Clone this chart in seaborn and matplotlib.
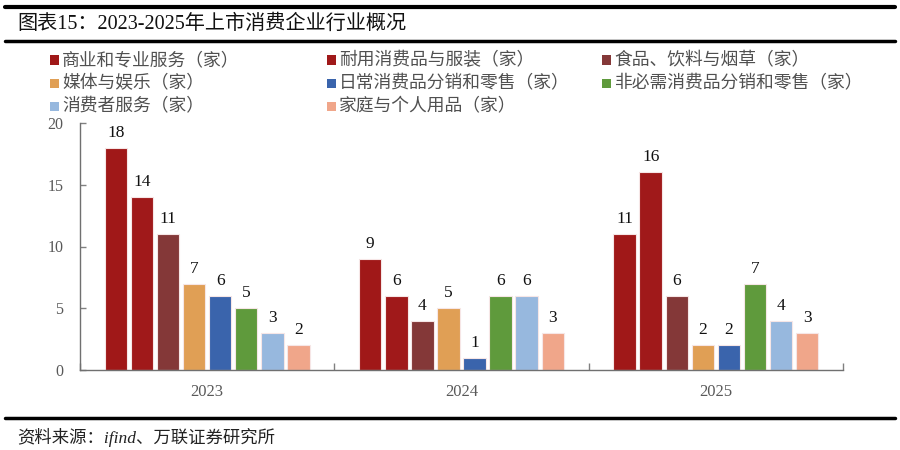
import matplotlib
matplotlib.use("Agg")
import matplotlib.pyplot as plt
from matplotlib.lines import Line2D
from matplotlib.patches import Rectangle
import seaborn as sns
import pandas as pd

years = ["2023", "2024", "2025"]
categories = ["商业和专业服务（家）", "耐用消费品与服装（家）", "食品、饮料与烟草（家）",
              "媒体与娱乐（家）", "日常消费品分销和零售（家）", "非必需消费品分销和零售（家）",
              "消费者服务（家）", "家庭与个人用品（家）"]
v_2023 = [18, 14, 11, 7, 6, 5, 3, 2]
v_2024 = [9, 6, 4, 5, 1, 6, 6, 3]
v_2025 = [11, 16, 6, 2, 2, 7, 4, 3]
colors = ["#A01818", "#A0191A", "#843838", "#E09F55", "#3A64AC", "#5F9A3C", "#97B8DE", "#F0A68A"]
y_ticks = [0, 5, 10, 15, 20]
title = "图表15：2023-2025年上市消费企业行业概况"
source = "资料来源：ifind、万联证券研究所"

rows = []
for y, vals in zip(years, [v_2023, v_2024, v_2025]):
    for c, v in zip(categories, vals):
        rows.append({"year": y, "cat": c, "value": v})
df = pd.DataFrame(rows)

sns.set_theme(style="white")
FAM = ["Liberation Serif", "Noto Sans CJK SC", "DejaVu Sans"]
plt.rcParams["font.family"] = FAM

fig = plt.figure(figsize=(9, 4.5), dpi=100)
ax = fig.add_axes([80/900, 80/450, (843-80)/900, (370-123)/450])

sns.barplot(data=df, x="year", y="value", hue="cat", hue_order=categories, order=years,
            palette=colors, width=0.82, gap=0.14, ax=ax, legend=False,
            edgecolor="#f6e6e6", linewidth=0.8, saturation=1)

for cont in ax.containers:
    ax.bar_label(cont, padding=5, fontsize=12.5, color="#111111", family=FAM)

ax.set_ylim(0, 20)
ax.set_xlim(-0.5, 2.5)
ax.set_yticks(y_ticks)
ax.set_yticklabels([str(t) for t in y_ticks], fontsize=11.5, color="#595959")
ax.set_xticks(range(len(years)))
ax.set_xticklabels(years, fontsize=12, color="#595959")
ax.set_xticks([-0.5, 0.5, 1.5, 2.5], minor=True)
ax.tick_params(axis="x", which="major", length=0, pad=10)
ax.tick_params(axis="x", which="minor", direction="in", length=5, color="#808080", width=1, bottom=True)
ax.tick_params(axis="y", which="major", direction="in", length=4, color="#808080", width=1, left=True, pad=12)
ax.set_xlabel("")
ax.set_ylabel("")
for s in ["top", "right"]:
    ax.spines[s].set_visible(False)
for s in ["left", "bottom"]:
    ax.spines[s].set_color("#707070")
    ax.spines[s].set_linewidth(1.0)

# legend
col_x = [50, 327, 602]
row_y = [60, 83, 106]
for i, (c, col) in enumerate(zip(categories, colors)):
    cx = col_x[i % 3]
    cy = row_y[i // 3]
    fig.add_artist(Rectangle((cx/900, 1 - (cy+4.5)/450), 9/900, 9/450, transform=fig.transFigure,
                             facecolor=col, edgecolor="none"))
    fig.text((cx+12)/900, 1 - cy/450, c, fontsize=12.8, color="#505050", va="center", ha="left",
             family=["Noto Sans CJK SC", "DejaVu Sans"])

# frame lines
for yy, lw in [(7, 3), (41, 2.5), (418, 2.5)]:
    fig.add_artist(Line2D([5/900, 895/900], [1 - yy/450, 1 - yy/450], transform=fig.transFigure,
                          color="black", linewidth=lw))

fig.text(17/900, 1 - 24/450, title, fontsize=14.5, color="#111111", va="center", ha="left", family=FAM)
fig.text(17/900, 1 - 437/450, source, fontsize=12.5, color="#222222", va="center", ha="left",
         style="italic", family=FAM)

fig.savefig("out.png", dpi=100)
